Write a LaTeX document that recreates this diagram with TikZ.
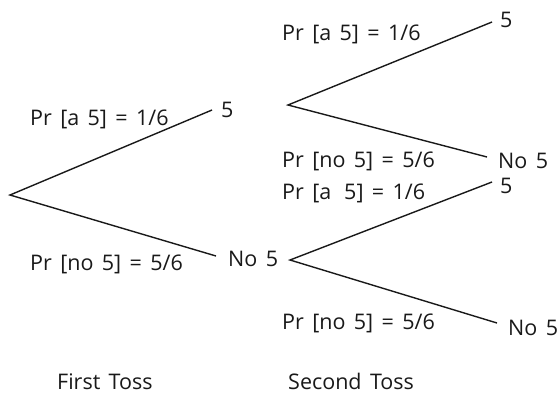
\documentclass[tikz,border=0pt]{standalone}
\usepackage{fontspec}
\setmainfont[WordSpace={1.5,1,1}]{Open Sans}
\begin{document}
\begin{tikzpicture}[x=1pt,y=-1pt,
  branch/.style={line width=1.4pt, draw=black!90},
  lbl/.style={anchor=base west, inner sep=0pt, text=black!90, font=\fontsize{21.5}{25}\selectfont}]
\useasboundingbox (0,0) rectangle (559,394);
% branch points
\coordinate (r1) at (10,195);
\coordinate (a1) at (212,110);
\coordinate (b1) at (216,256);
\coordinate (r2) at (288,105);
\coordinate (a2) at (492,22);
\coordinate (b2) at (487,157);
\coordinate (r3) at (290,260);
\coordinate (a3) at (492,182);
\coordinate (b3) at (497,323);
% branches
\draw[branch] (a1) -- (r1) -- (b1);
\draw[branch] (a2) -- (r2) -- (b2);
\draw[branch] (a3) -- (r3) -- (b3);
% outcomes
\node[lbl] (o1) at (221,117) {5};
\node[lbl] (o2) at (228,266) {No 5};
\node[lbl] (o3) at (500,27) {5};
\node[lbl] (o4) at (498,168) {No 5};
\node[lbl] (o5) at (500,193) {5};
\node[lbl] (o6) at (508,335) {No 5};
% probabilities
\node[lbl] (p1) at (30,125) {Pr [a 5] = 1/6};
\node[lbl] (p2) at (30,270) {Pr [no 5] = 5/6};
\node[lbl] (p3) at (282,40) {Pr [a 5] = 1/6};
\node[lbl] (p4) at (282,167) {Pr [no 5] = 5/6};
\node[lbl] (p5) at (282,199) {Pr [a\hspace{0.6em}5] = 1/6};
\node[lbl] (p6) at (282,329) {Pr [no 5] = 5/6};
% stage captions
\node[lbl] (t1) at (57,389) {First Toss};
\node[lbl] (t2) at (288,389) {Second Toss};
\end{tikzpicture}
\end{document}
